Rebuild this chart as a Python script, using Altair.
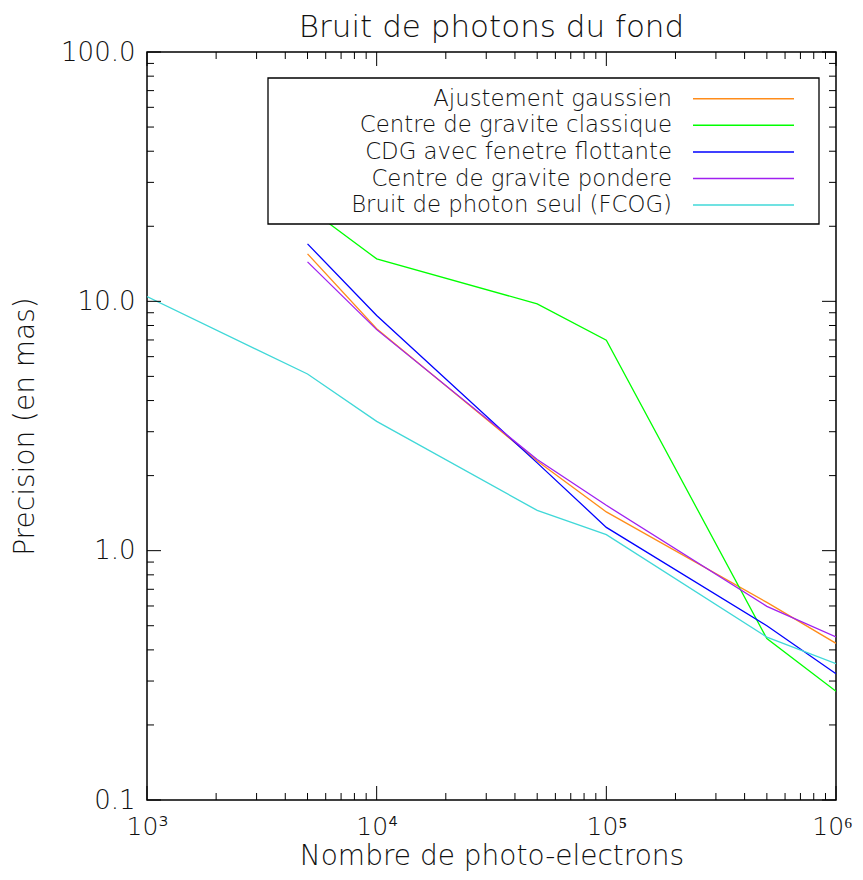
import altair as alt
import pandas as pd

# ---------------- data ----------------
x_main = [5e3, 1e4, 5e4, 1e5, 5e5, 1e6]
x_photon = [1e3, 5e3, 1e4, 5e4, 1e5, 5e5, 1e6]

gaussien = [15.5, 7.77, 2.29, 1.43, 0.62, 0.425]
classique = [23.8, 14.8, 9.77, 6.99, 0.444, 0.273]
flottante = [17.0, 8.77, 2.25, 1.24, 0.50, 0.321]
pondere = [14.4, 7.7, 2.32, 1.52, 0.598, 0.451]
photon = [10.45, 5.11, 3.30, 1.45, 1.16, 0.45, 0.352]

names = [
    "Ajustement gaussien",
    "Centre de gravite classique",
    "CDG avec fenetre flottante",
    "Centre de gravite pondere",
    "Bruit de photon seul (FCOG)",
]
colors = ["#FF8C1A", "#00FF00", "#0000FF", "#A020F0", "#40D8D8"]

title_text = "Bruit de photons du fond"

x_major = [1e3, 1e4, 1e5, 1e6]
x_minor = [k * 10 ** n for n in (3, 4, 5) for k in range(2, 10)]
y_major = [0.1, 1.0, 10.0, 100.0]
y_minor = [k * 10.0 ** n for n in (-1, 0, 1) for k in range(2, 10)]

series = [
    (names[0], x_main, gaussien),
    (names[1], x_main, classique),
    (names[2], x_main, flottante),
    (names[3], x_main, pondere),
    (names[4], x_photon, photon),
]
rows = []
for name, xs, ys in series:
    for i, (xv, yv) in enumerate(zip(xs, ys)):
        rows.append({"serie": name, "x": xv, "y": yv, "order": i})
df = pd.DataFrame(rows)

# ---------------- layout ----------------
W, H = 689, 748
FONT = "DejaVu Sans"
FW = 200
TXT = "#111111"

xscale = alt.Scale(type="log", domain=[1e3, 1e6], nice=False)
yscale = alt.Scale(type="log", domain=[0.1, 100], nice=False)

lines = alt.Chart(df).mark_line(strokeWidth=1.3, clip=True).encode(
    x=alt.X(
        "x:Q",
        scale=xscale,
        axis=alt.Axis(
            values=x_major,
            ticks=False,
            domain=False,
            grid=False,
            labelExpr="datum.value == 1000 ? '10³' : datum.value == 10000 ? '10⁴' : datum.value == 100000 ? '10⁵' : '10⁶'",
            labelFont=FONT,
            labelFontWeight=FW,
            labelFontSize=25,
            labelColor=TXT,
            labelPadding=14,
            labelFlush=False,
            labelOffset={"condition": {"test": "datum.value >= 1000000", "value": -4}, "value": 0},
            title="Nombre de photo-electrons",
            titleFont=FONT,
            titleFontWeight=FW,
            titleFontSize=28,
            titleColor=TXT,
            titleBaseline="alphabetic",
            titleY=64,
        ),
    ),
    y=alt.Y(
        "y:Q",
        scale=yscale,
        axis=alt.Axis(
            values=y_major,
            format=".1f",
            ticks=False,
            domain=False,
            grid=False,
            labelFont=FONT,
            labelFontWeight=FW,
            labelFontSize=26,
            labelColor=TXT,
            labelPadding=12,
            labelFlush=False,
            title="Precision (en mas)",
            titleFont=FONT,
            titleFontWeight=FW,
            titleFontSize=28,
            titleColor=TXT,
            titleX=-122,
            titleY=H / 2,
            titleBaseline="middle",
            titleAngle=270,
        ),
    ),
    color=alt.Color("serie:N", scale=alt.Scale(domain=names, range=colors), legend=None),
    order="order:Q",
    detail="serie:N",
)

layers = [lines]

def xticks(vals, length):
    d = pd.DataFrame({"x": vals})
    base = alt.Chart(d).mark_rule(color="black", strokeWidth=1)
    bot = base.encode(x=alt.X("x:Q", scale=xscale), y=alt.value(H), y2=alt.value(H - length))
    top = base.encode(x=alt.X("x:Q", scale=xscale), y=alt.value(0), y2=alt.value(length))
    return [bot, top]

def yticks(vals, length):
    d = pd.DataFrame({"y": vals})
    base = alt.Chart(d).mark_rule(color="black", strokeWidth=1)
    left = base.encode(y=alt.Y("y:Q", scale=yscale), x=alt.value(0), x2=alt.value(length))
    right = base.encode(y=alt.Y("y:Q", scale=yscale), x=alt.value(W), x2=alt.value(W - length))
    return [left, right]

layers += xticks(x_major, 14) + xticks(x_minor, 7) + yticks(y_major, 14) + yticks(y_minor, 7)

# ---------------- legend box ----------------
bx0, bx1, by0, by1 = 268 - 147, 819 - 147, 78 - 52, 224 - 52
box = alt.Chart(pd.DataFrame({"a": [0]})).mark_rect(
    fill="white", stroke="black", strokeWidth=1.3
).encode(x=alt.value(bx0), x2=alt.value(bx1), y=alt.value(by0), y2=alt.value(by1))
layers.append(box)

row0 = 98.7 - 52
step = 26.6
for i, (nm, col) in enumerate(zip(names, colors)):
    yy = row0 + step * i
    t = alt.Chart(pd.DataFrame({"label": [nm]})).mark_text(
        align="right", baseline="middle", font=FONT, fontWeight=FW, fontSize=22.8, color=TXT
    ).encode(text="label:N", x=alt.value(672 - 147), y=alt.value(yy))
    r = alt.Chart(pd.DataFrame({"label": [nm]})).mark_rule(color=col, strokeWidth=1.5).encode(
        x=alt.value(693 - 147), x2=alt.value(794 - 147), y=alt.value(yy)
    )
    layers += [t, r]

# ---------------- title ----------------
ttl = alt.Chart(pd.DataFrame({"t": [title_text]})).mark_text(
    align="center", baseline="alphabetic", font=FONT, fontWeight=FW, fontSize=31, color=TXT
).encode(text="t:N", x=alt.value(W / 2), y=alt.value(-15))
layers.append(ttl)

chart = alt.layer(*layers).properties(
    width=W,
    height=H,
    autosize="none",
    padding={"left": 139, "top": 44, "right": 19, "bottom": 72},
).configure(
    background="white",
    view=alt.ViewConfig(stroke="black", strokeWidth=1.5),
)

chart.save("out.html", embed_options={"renderer": "svg", "actions": False})
